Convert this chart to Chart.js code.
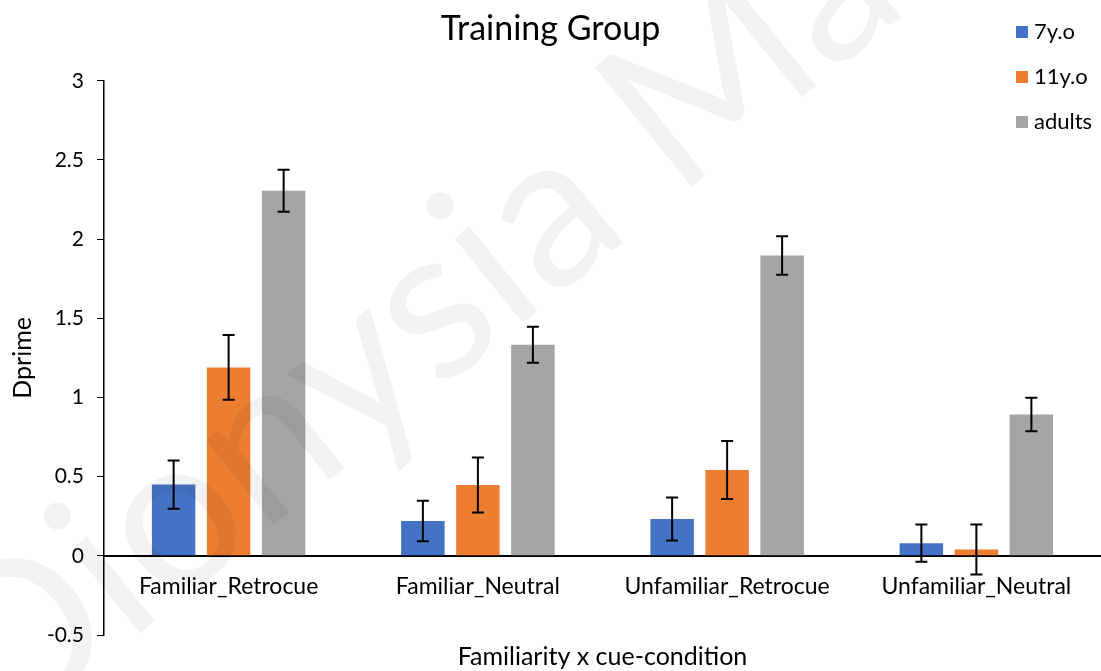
<!DOCTYPE html>
<html>
<head>
<meta charset="utf-8">
<script src="https://cdn.jsdelivr.net/npm/chart.js@4"></script>
<style>
  html, body { margin: 0; padding: 0; background: #fff; }
  #wrap { width: 1101px; height: 671px; }
</style>
</head>
<body>
<div id="wrap"><canvas id="myChart"></canvas></div>
<script>
// categories and series
const categories = ["Familiar_Retrocue", "Familiar_Neutral", "Unfamiliar_Retrocue", "Unfamiliar_Neutral"];
const seriesNames = ["7y.o", "11y.o", "adults"];
const kids7 = [0.45, 0.22, 0.233, 0.08];
const kids11 = [1.19, 0.447, 0.542, 0.04];
const adults = [2.306, 1.333, 1.897, 0.892];
// error bar half-widths
const kids7Err = [0.152, 0.128, 0.136, 0.118];
const kids11Err = [0.205, 0.174, 0.183, 0.158];
const adultsErr = [0.133, 0.113, 0.122, 0.106];
const yTicks = [-0.5, 0, 0.5, 1, 1.5, 2, 2.5, 3];

const COLORS = {
  blue: '#4472C4',
  orange: '#ED7D31',
  grey: '#A5A5A5'
};
const FONT = 'Lato';

const data = {
  labels: categories,
  datasets: [
    { label: seriesNames[0], data: kids7, err: kids7Err, backgroundColor: COLORS.blue },
    { label: seriesNames[1], data: kids11, err: kids11Err, backgroundColor: COLORS.orange },
    { label: seriesNames[2], data: adults, err: adultsErr, backgroundColor: COLORS.grey }
  ]
};

// faint watermark over everything
const watermark = {
  id: 'watermark',
  afterDatasetsDraw(chart) {
    const ctx = chart.ctx;
    ctx.save();
    ctx.translate(2, 745);
    ctx.rotate(-39 * Math.PI / 180);
    ctx.font = '215px ' + FONT;
    ctx.fillStyle = 'rgba(0,0,0,0.05)';
    ctx.textBaseline = 'alphabetic';
    ctx.fillText('Dionysia Ma', 0, 0);
    ctx.restore();
  }
};

// error bars drawn from the err arrays through the y scale
const errorBars = {
  id: 'errorBars',
  afterDatasetsDraw(chart) {
    const ctx = chart.ctx;
    const y = chart.scales.y;
    ctx.save();
    ctx.strokeStyle = '#000';
    ctx.lineWidth = 2;
    chart.data.datasets.forEach((ds, i) => {
      const meta = chart.getDatasetMeta(i);
      meta.data.forEach((bar, j) => {
        const v = ds.data[j], e = ds.err[j];
        const top = y.getPixelForValue(v + e);
        const bot = y.getPixelForValue(v - e);
        const x = bar.x;
        ctx.beginPath();
        ctx.moveTo(x, top); ctx.lineTo(x, bot);
        ctx.moveTo(x - 6, top); ctx.lineTo(x + 6, top);
        ctx.moveTo(x - 6, bot); ctx.lineTo(x + 6, bot);
        ctx.stroke();
      });
    });
    ctx.restore();
  }
};

// legend in the top right corner, stacked
const sideLegend = {
  id: 'sideLegend',
  afterDraw(chart) {
    const ctx = chart.ctx;
    ctx.save();
    ctx.font = '22px ' + FONT;
    ctx.textBaseline = 'middle';
    chart.data.datasets.forEach((ds, i) => {
      const cy = 32 + i * 45;
      ctx.fillStyle = ds.backgroundColor;
      ctx.fillRect(1016, cy - 6, 12, 12);
      ctx.fillStyle = '#000';
      ctx.fillText(ds.label, 1034, cy);
    });
    ctx.restore();
  }
};

const config = {
  type: 'bar',
  data: data,
  options: {
    responsive: true,
    maintainAspectRatio: false,
    animation: false,
    layout: { padding: { left: 0, right: 0, top: 0, bottom: 0 } },
    datasets: {
      bar: { categoryPercentage: 0.662, barPercentage: 0.79 }
    },
    plugins: {
      legend: { display: false },
      tooltip: { enabled: false },
      title: {
        display: true,
        text: 'Training Group',
        color: '#000',
        font: { family: FONT, size: 34, weight: 'normal', lineHeight: 1.2 },
        padding: { top: 9, bottom: 31 }
      }
    },
    scales: {
      x: {
        position: { y: 0 },
        grid: { display: false },
        border: { display: true, color: '#000', width: 2 },
        ticks: { color: '#000', font: { family: FONT, size: 23 }, padding: 9, maxRotation: 0 }
      },
      // only carries the axis title at the bottom, centred under the plot
      xTitle: {
        type: 'category',
        position: 'bottom',
        grid: { display: false },
        border: { display: false },
        ticks: { display: false, padding: 0 },
        title: {
          display: true,
          text: 'Familiarity x cue-condition',
          color: '#000',
          font: { family: FONT, size: 25, lineHeight: 1.12 },
          padding: { top: 0, bottom: 0 }
        }
      },
      y: {
        min: -0.5,
        max: 3,
        afterBuildTicks(scale) {
          scale.ticks = yTicks.map(v => ({ value: v }));
        },
        afterFit(scale) { scale.width = 104; },
        grid: { drawOnChartArea: false, drawTicks: true, tickLength: 7, color: '#000', lineWidth: 1 },
        border: { display: true, color: '#000', width: 1.5 },
        ticks: {
          color: '#000',
          font: { family: FONT, size: 21 },
          padding: 13,
          callback: v => String(v)
        },
        title: {
          display: true,
          text: 'Dprime',
          color: '#000',
          font: { family: FONT, size: 25 },
          padding: { top: 8, bottom: 0 }
        }
      }
    }
  },
  plugins: [watermark, errorBars, sideLegend]
};

const myChart = new Chart(document.getElementById('myChart'), config);
</script>
</body>
</html>
